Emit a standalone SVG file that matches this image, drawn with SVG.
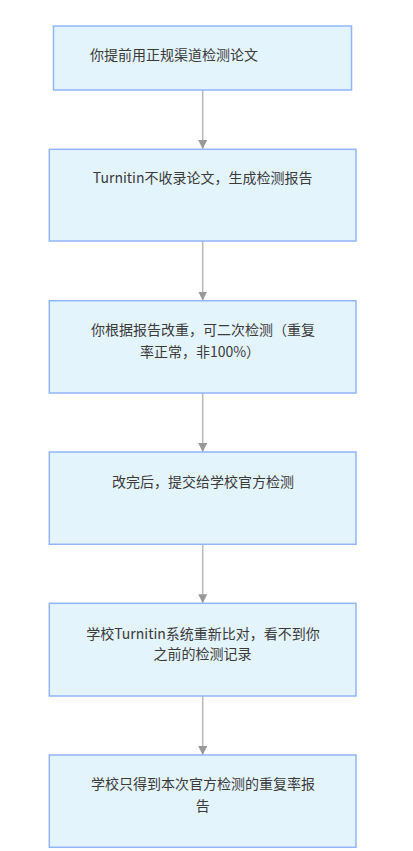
<svg xmlns="http://www.w3.org/2000/svg" width="413" height="851" viewBox="0 0 413 851">
<defs>
<style>
.box{fill:#e4f4fd;stroke:#91b5f6;stroke-width:1.5}
.t{font-family:"Noto Sans CJK SC","Liberation Sans",sans-serif;font-size:14px;fill:#3a3a3a;dominant-baseline:central}
.c{text-anchor:middle}
.edge{stroke:#b8b8b8;stroke-width:1.5;fill:none}
</style>
<marker id="arr" markerWidth="10" markerHeight="10" refX="9" refY="4.5" orient="auto" markerUnits="userSpaceOnUse">
<path d="M0,0 L9,4.5 L0,9 Z" fill="#999"/>
</marker>
</defs>
<rect width="413" height="851" fill="#fff"/>
<g id="connectors">
<line class="edge" x1="202.7" y1="90" x2="202.7" y2="149" marker-end="url(#arr)"/>
<line class="edge" x1="202.7" y1="241" x2="202.7" y2="300.5" marker-end="url(#arr)"/>
<line class="edge" x1="202.7" y1="393" x2="202.7" y2="452" marker-end="url(#arr)"/>
<line class="edge" x1="202.7" y1="544.3" x2="202.7" y2="603.3" marker-end="url(#arr)"/>
<line class="edge" x1="202.7" y1="696" x2="202.7" y2="755" marker-end="url(#arr)"/>
</g>
<g id="n1">
<rect class="box" x="53.5" y="26" width="298" height="64"/>
<text class="t" x="90" y="54">你提前用正规渠道检测论文</text>
</g>
<g id="n2">
<rect class="box" x="49.3" y="149.3" width="306.7" height="91.7"/>
<text class="t c" x="202.7" y="177">Turnitin不收录论文，生成检测报告</text>
</g>
<g id="n3">
<rect class="box" x="49.3" y="300.7" width="306.7" height="92.3"/>
<text class="t c" x="203" y="329.3">你根据报告改重，可二次检测（重复</text>
<text class="t c" x="200" y="351">率正常，非100%）</text>
</g>
<g id="n4">
<rect class="box" x="49.3" y="452" width="306.7" height="92.3"/>
<text class="t c" x="203" y="480.7">改完后，提交给学校官方检测</text>
</g>
<g id="n5">
<rect class="box" x="49.3" y="603.3" width="306.7" height="92.7"/>
<text class="t c" x="203" y="632.7">学校Turnitin系统重新比对，看不到你</text>
<text class="t c" x="202.5" y="653.3">之前的检测记录</text>
</g>
<g id="n6">
<rect class="box" x="49.3" y="755" width="306.7" height="92.3"/>
<text class="t c" x="203" y="783.3">学校只得到本次官方检测的重复率报</text>
<text class="t c" x="202.7" y="805">告</text>
</g>
</svg>
